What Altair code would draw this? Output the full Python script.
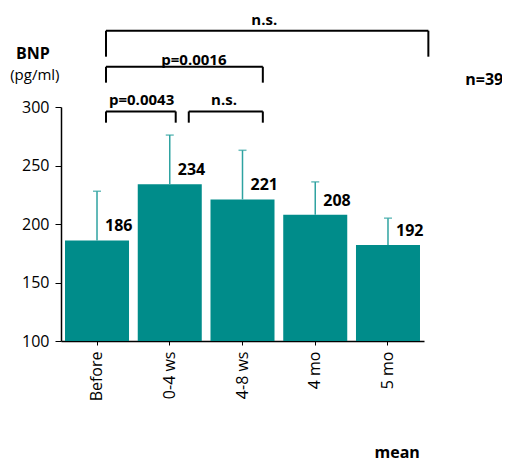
import altair as alt
import pandas as pd

# ---- data ----
categories = ["Before", "0-4 ws", "4-8 ws", "4 mo", "5 mo"]
bar_means = [186, 234, 221, 208, 182]
label_values = ["186", "234", "221", "208", "192"]
error_tops = [228, 276, 263, 236, 205]

# brackets: (x start, x end) in category-index units, (top, leg bottom) in BNP units
bracket_x1 = [0.62, 1.76, 0.62, 0.62]
bracket_x2 = [1.58, 2.78, 2.78, 5.06]
bracket_top = [296.2, 296.2, 334.4, 365.2]
bracket_bottom = [286.6, 286.6, 320.8, 343.0]
bracket_labels = ["p=0.0043", "n.s.", "p=0.0016", "n.s."]
bracket_label_x = [1.11, 2.245, 1.83, 2.80]
bracket_label_y = [306, 306, 340.5, 374]

extra_texts = ["BNP", "(pg/ml)", "n=39", "mean"]
extra_x = [-0.386, -0.36, 5.83, 4.63]
extra_y = [345.5, 327.0, 323.4, 4.5]
extra_bold = [True, False, True, True]

FONT = "Open Sans"
BAR = "#008C8A"
ERR = "#2FA3A1"

bars_df = pd.DataFrame({"cat": categories, "mean": bar_means,
                        "label": label_values, "top": error_tops})

rows = []
for a, b, t, btm in zip(bracket_x1, bracket_x2, bracket_top, bracket_bottom):
    rows.append({"x": a, "x2": b, "y": t, "y2": t})
    rows.append({"x": a, "x2": a, "y": t, "y2": btm})
    rows.append({"x": b, "x2": b, "y": t, "y2": btm})
br_df = pd.DataFrame(rows)
brl_df = pd.DataFrame({"x": bracket_label_x, "y": bracket_label_y, "t": bracket_labels})
ex_df = pd.DataFrame({"x": extra_x, "y": extra_y, "t": extra_texts, "b": extra_bold})

yscale = alt.Scale(domain=[100, 300], nice=False, zero=False)
xband = alt.X("cat:N", sort=categories,
              scale=alt.Scale(paddingInner=0.12, paddingOuter=0.055),
              axis=alt.Axis(title=None, labelAngle=-90, labelAlign="right",
                            labelBaseline="middle", labelFontSize=16, labelFont=FONT,
                            labelColor="black", tickSize=4, tickColor="black",
                            domainColor="black", domainWidth=1.5, labelPadding=6))
yaxis = alt.Axis(title=None, values=[100, 150, 200, 250, 300], labelFontSize=16,
                 labelFont=FONT, labelColor="black", tickSize=6, tickColor="black",
                 domainColor="black", domainWidth=1.5, grid=False, labelPadding=6)

base = alt.Chart(bars_df)
bars = base.mark_bar(color=BAR).encode(
    x=xband, y=alt.Y("mean:Q", scale=yscale, axis=yaxis), y2=alt.datum(100))
err = base.mark_rule(color=ERR, strokeWidth=1.5).encode(
    x=alt.X("cat:N", sort=categories), y="mean:Q", y2="top:Q")
cap = base.mark_tick(color=ERR, thickness=1.5, size=8).encode(
    x=alt.X("cat:N", sort=categories), y="top:Q")
lab = base.mark_text(align="left", baseline="middle", dx=8, dy=-14,
                     font=FONT, fontSize=16, fontWeight="bold", color="black").encode(
    x=alt.X("cat:N", sort=categories), y="mean:Q", text="label:N")

main = alt.layer(bars, err, cap, lab)

xq = alt.Scale(domain=[0, 5], nice=False, zero=False)
brk = alt.Chart(br_df).mark_rule(color="black", strokeWidth=2).encode(
    x=alt.X("x:Q", scale=xq, axis=None), x2="x2:Q",
    y=alt.Y("y:Q", scale=yscale), y2="y2:Q")
brt = alt.Chart(brl_df).mark_text(font=FONT, fontSize=15, fontWeight="bold",
                                  color="black", baseline="middle").encode(
    x=alt.X("x:Q", scale=xq, axis=None), y=alt.Y("y:Q", scale=yscale), text="t:N")
ext_b = alt.Chart(ex_df).transform_filter("datum.b").mark_text(
    font=FONT, fontSize=16, fontWeight="bold", color="black", baseline="middle").encode(
    x=alt.X("x:Q", scale=xq, axis=None), y=alt.Y("y:Q", scale=yscale), text="t:N")
ext_r = alt.Chart(ex_df).transform_filter("!datum.b").mark_text(
    font=FONT, fontSize=15, color="black", baseline="middle").encode(
    x=alt.X("x:Q", scale=xq, axis=None), y=alt.Y("y:Q", scale=yscale), text="t:N")
annot = alt.layer(brk, brt, ext_b, ext_r)

chart = alt.layer(main, annot).resolve_scale(x="independent").properties(
    width=363, height=234,
    autosize=alt.AutoSizeParams(type="none"),
    padding={"left": 53, "top": 99, "right": 78, "bottom": 125},
).configure_view(stroke=None).configure_axis(labelFont=FONT)

chart.save("out.html", embed_options={"renderer": "svg", "actions": False})
